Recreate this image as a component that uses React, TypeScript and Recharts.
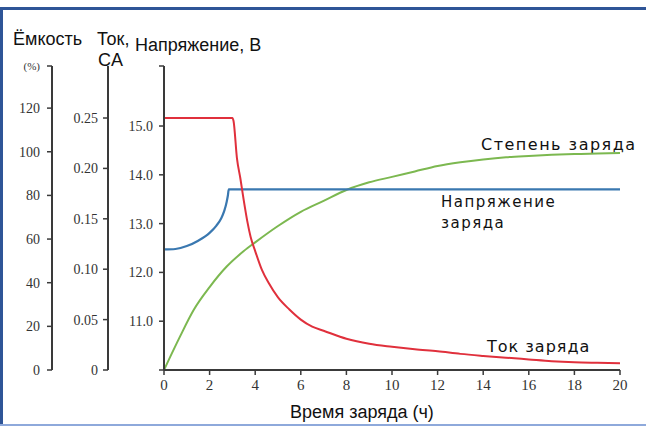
import React from 'react';
import { LineChart, Line, XAxis, YAxis } from 'recharts';

// ---- data ----
const xTicks = [0, 2, 4, 6, 8, 10, 12, 14, 16, 18, 20];
const capacityTicks = [0, 20, 40, 60, 80, 100, 120];
const currentTicks = [0, 0.05, 0.1, 0.15, 0.2, 0.25];
const voltageTicks = [10, 11, 12, 13, 14, 15];

const CAP_MAX = 139.3;
const CUR_MAX = 0.3016;
const VOLT_MIN = 10;
const VOLT_MAX = 16.23;

const voltageHours = [0, 0.5, 1, 1.5, 2, 2.3, 2.5, 2.65, 2.75, 2.8, 2.84, 20];
const voltageValues = [12.47, 12.48, 12.54, 12.65, 12.81, 12.96, 13.1, 13.27, 13.45, 13.57, 13.7, 13.7];

const currentHours = [0, 3.0, 3.05, 3.2, 3.35, 3.5, 3.65, 3.8, 4, 4.3, 4.6, 5, 5.5, 6, 6.5, 7, 8, 9, 10, 11, 12, 13, 14, 15, 16, 17, 18, 19, 20];
const currentValues = [0.25, 0.25, 0.247, 0.21, 0.19, 0.168, 0.148, 0.132, 0.118, 0.099, 0.086, 0.072, 0.06, 0.05, 0.043, 0.039, 0.031, 0.026, 0.023, 0.0205, 0.0185, 0.016, 0.014, 0.0122, 0.0105, 0.0088, 0.0077, 0.0071, 0.0066];

const capacityHours = [0, 0.7, 1.3, 2, 2.75, 3.5, 4, 5, 6, 7, 8, 9, 10, 11, 12, 13, 14, 15, 16, 17, 18, 19, 20];
const capacityValues = [0, 15.3, 27.5, 38, 47.4, 54.5, 58.5, 66, 72.5, 77.5, 82.5, 86, 88.5, 91, 93.5, 95.2, 96.5, 97.5, 98.1, 98.6, 99, 99.2, 99.4];

const toPoints = (hs: number[], vs: number[]) => hs.map((h, i) => ({ h, v: vs[i] }));

const voltageData = toPoints(voltageHours, voltageValues);
const currentData = toPoints(currentHours, currentValues);
const capacityData = toPoints(capacityHours, capacityValues);

const AXIS = '#3a3a3a';
const TICKTXT = '#333';
const SERIF = 'Liberation Serif, serif';
const SANS = 'Liberation Sans, Arial, sans-serif';
const HAND = 'DejaVu Sans, sans-serif';

const CapTick = (props: any) => {
  const { x, y, payload } = props;
  const top = payload.value > 130;
  return (
    <text x={x} y={y} dy={top ? 4 : 5} textAnchor="end" fontSize={top ? 11 : 14} fontFamily={SERIF} fill={TICKTXT}>
      {top ? '(%)' : payload.value}
    </text>
  );
};

const VoltTick = (props: any) => {
  const { x, y, payload } = props;
  if (payload.value < 10.5 || payload.value > 16) return null;
  return (
    <text x={x} y={y} dy={5} textAnchor="end" fontSize={14} fontFamily={SERIF} fill={TICKTXT}>
      {Number(payload.value).toFixed(1)}
    </text>
  );
};

const CurTick = (props: any) => {
  const { x, y, payload } = props;
  return (
    <text x={x} y={y} dy={5} textAnchor="end" fontSize={14} fontFamily={SERIF} fill={TICKTXT}>
      {payload.value === 0 ? '0' : Number(payload.value).toFixed(2)}
    </text>
  );
};

const XTick = (props: any) => {
  const { x, y, payload } = props;
  return (
    <text x={x} y={y} dy={11} textAnchor="middle" fontSize={15} fontFamily={SERIF} fill={TICKTXT}>
      {payload.value}
    </text>
  );
};

export default function App() {
  return (
    <div style={{ position: 'absolute', left: 0, top: 0, width: 646, height: 427, background: '#fff', overflow: 'hidden' }}>
      <LineChart width={646} height={427} margin={{ top: 66, right: 26, left: 0, bottom: 0 }}>
        <XAxis
          xAxisId="xb"
          type="number"
          dataKey="h"
          domain={[0, 20]}
          ticks={xTicks}
          interval={0}
          height={57}
          tickSize={5}
          tickMargin={4}
          axisLine={{ stroke: AXIS, strokeWidth: 2 }}
          tickLine={{ stroke: AXIS, strokeWidth: 1.5 }}
          tick={<XTick />}
          allowDataOverflow
        />
        <XAxis
          xAxisId="xt"
          orientation="top"
          type="number"
          dataKey="h"
          domain={[0, 20]}
          height={0}
          tick={false}
          tickLine={false}
          axisLine={{ stroke: AXIS, strokeWidth: 2 }}
        />
        <YAxis
          yAxisId="y1"
          type="number"
          domain={[VOLT_MIN, VOLT_MAX]}
          ticks={[...voltageTicks, VOLT_MAX]}
          interval={0}
          width={56}
          tickSize={5}
          tickMargin={6}
          axisLine={{ stroke: AXIS, strokeWidth: 2 }}
          tickLine={{ stroke: AXIS, strokeWidth: 1.5 }}
          tick={<VoltTick />}
          allowDataOverflow
        />
        <YAxis
          yAxisId="y2"
          type="number"
          domain={[0, CUR_MAX]}
          ticks={currentTicks}
          interval={0}
          width={56}
          tickSize={5}
          tickMargin={5}
          axisLine={{ stroke: AXIS, strokeWidth: 2 }}
          tickLine={{ stroke: AXIS, strokeWidth: 1.5 }}
          tick={<CurTick />}
          allowDataOverflow
        />
        <YAxis
          yAxisId="y3"
          type="number"
          domain={[0, CAP_MAX]}
          ticks={[...capacityTicks, CAP_MAX]}
          interval={0}
          width={52}
          tickSize={5}
          tickMargin={7}
          axisLine={{ stroke: AXIS, strokeWidth: 2 }}
          tickLine={{ stroke: AXIS, strokeWidth: 1.5 }}
          tick={<CapTick />}
          allowDataOverflow
        />
        <YAxis
          yAxisId="yr"
          orientation="right"
          type="number"
          domain={[0, 1]}
          width={0}
          tick={false}
          tickLine={false}
          axisLine={{ stroke: AXIS, strokeWidth: 2 }}
        />
        <Line xAxisId="xb" yAxisId="y3" data={capacityData} dataKey="v" type="monotone" stroke="#7cb850" strokeWidth={2} dot={false} isAnimationActive={false} />
        <Line xAxisId="xb" yAxisId="y1" data={voltageData} dataKey="v" type="monotone" stroke="#3a78b0" strokeWidth={2.2} dot={false} isAnimationActive={false} />
        <Line xAxisId="xb" yAxisId="y2" data={currentData} dataKey="v" type="monotone" stroke="#e0303c" strokeWidth={2} dot={false} isAnimationActive={false} />

        <text x={13} y={45} fontSize={18} fontFamily={SANS} fill="#111">Ёмкость</text>
        <text x={97} y={45} fontSize={18} fontFamily={SANS} fill="#111">Ток,</text>
        <text x={98} y={66} fontSize={18} fontFamily={SANS} fill="#111">CA</text>
        <text x={135} y={51} fontSize={18} fontFamily={SANS} fill="#111">Напряжение, В</text>
        <text x={290} y={418} fontSize={18} fontFamily={SANS} fill="#111">Время заряда (ч)</text>

        <text x={481} y={150} fontSize={16} letterSpacing={1.5} fontFamily={HAND} fill="#111">Степень заряда</text>
        <text x={441} y={207} fontSize={15} letterSpacing={1.5} fontFamily={HAND} fill="#111">Напряжение</text>
        <text x={441} y={228} fontSize={15} letterSpacing={1.5} fontFamily={HAND} fill="#111">заряда</text>
        <text x={487} y={352} fontSize={16} letterSpacing={1} fontFamily={HAND} fill="#111">Ток заряда</text>
      </LineChart>
      <div style={{ position: 'absolute', left: 0, right: 0, top: 7, height: 3, background: '#2f5597' }} />
      <div style={{ position: 'absolute', left: 0, width: 3, top: 7, height: 417, background: '#2f5597' }} />
      <div style={{ position: 'absolute', left: 0, right: 0, top: 424, height: 2, background: '#8ea9db' }} />
    </div>
  );
}
